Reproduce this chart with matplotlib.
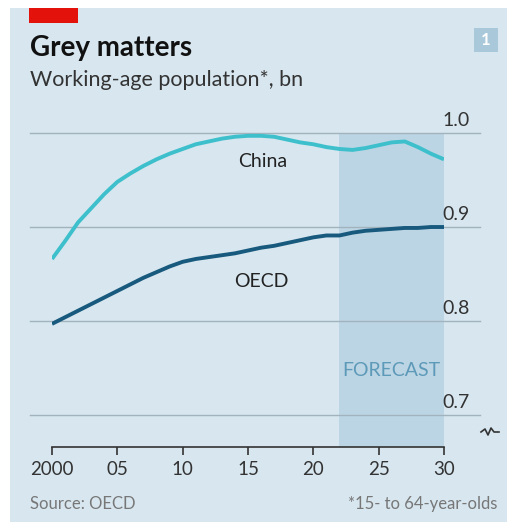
import matplotlib
matplotlib.use("Agg")
from matplotlib import pyplot as plt
from matplotlib import transforms
from matplotlib.patches import Rectangle

plt.rcParams['font.family'] = ['Lato', 'DejaVu Sans']

years = list(range(2000, 2031))
china = [0.866, 0.885, 0.905, 0.920, 0.935, 0.948, 0.957, 0.965, 0.972, 0.978,
         0.983, 0.988, 0.991, 0.994, 0.996, 0.997, 0.997, 0.996, 0.993, 0.990,
         0.988, 0.985, 0.983, 0.982, 0.984, 0.987, 0.990, 0.991, 0.985, 0.978,
         0.972]
oecd = [0.797, 0.804, 0.811, 0.818, 0.825, 0.832, 0.839, 0.846, 0.852, 0.858,
        0.863, 0.866, 0.868, 0.870, 0.872, 0.875, 0.878, 0.880, 0.883, 0.886,
        0.889, 0.891, 0.891, 0.894, 0.896, 0.897, 0.898, 0.899, 0.899, 0.900,
        0.900]
forecast = (2022, 2030)
y_ticks = [0.7, 0.8, 0.9, 1.0]
x_ticks = [2000, 2005, 2010, 2015, 2020, 2025, 2030]
x_labels = ["2000", "05", "10", "15", "20", "25", "30"]

bg = "#d7e6ef"
W, H = 507, 524
fig = plt.figure(figsize=(W / 100, H / 100), dpi=100)
fig.patch.set_facecolor("white")
fig.patches.append(Rectangle((10 / W, 0.003), 1 - 10 / W, 1 - 8 / H - 0.003,
                             transform=fig.transFigure, facecolor=bg,
                             edgecolor="none", zorder=-2))
fig.patches.append(Rectangle((29 / W, 1 - 23 / H), 49 / W, 15 / H,
                             transform=fig.transFigure, facecolor="#e3120b",
                             edgecolor="none", zorder=-1))

ymin, ymax = 0.666, 1.01
ax = fig.add_axes([52 / W, 1 - 447 / H, 392 / W, (447 - 123.6) / H])
ax.set_zorder(2)
ax.set_facecolor("none")
ax.set_xlim(2000, 2030)
ax.set_ylim(ymin, ymax)

# shaded forecast block stops at the top gridline
ax.axvspan(*forecast, ymax=(1.0 - ymin) / (ymax - ymin),
           facecolor="#bcd5e4", edgecolor="none", zorder=0)

# gridlines reach past the axes, labels sit on top of them at the right
trans = transforms.blended_transform_factory(fig.transFigure, ax.transData)
for v in y_ticks:
    ax.plot([30 / W, 480 / W], [v, v], transform=trans, color="#a3b3bd",
            lw=1, clip_on=False, zorder=1)
    ax.text(470 / W, v + 0.004, f"{v:.1f}", transform=trans, ha="right",
            va="bottom", fontsize=14, color="#333333")

ax.plot(years, china, color="#3ec0cc", lw=2.8, zorder=3, solid_capstyle="butt")
ax.plot(years, oecd, color="#185a7e", lw=2.8, zorder=3, solid_capstyle="butt")
ax.text(2016.1, 0.964, "China", fontsize=14, color="#222222", ha="center")
ax.text(2016.0, 0.836, "OECD", fontsize=14, color="#222222", ha="center")
ax.text(2026, 0.742, "FORECAST", fontsize=14, color="#5d99b8", ha="center")

# axis break mark under the 0.7 label
zx = [481, 485, 488, 491, 494, 499]
zy = [432, 429, 435, 428, 432, 432]
fig.lines.append(plt.Line2D([x / W for x in zx], [1 - y / H for y in zy],
                            transform=fig.transFigure, color="#333333",
                            lw=1.2, zorder=3))

for s in ["top", "right", "left"]:
    ax.spines[s].set_visible(False)
ax.spines["bottom"].set_color("#333333")
ax.spines["bottom"].set_linewidth(1.2)
ax.set_yticks([])
ax.set_xticks(x_ticks)
ax.set_xticklabels(x_labels, fontsize=13.5, color="#333333")
ax.tick_params(axis="x", length=6, width=1.2, color="#333333", pad=4)

fig.text(30 / W, 1 - 56 / H, "Grey matters", fontsize=20, fontweight="bold",
         color="#111111")
fig.text(30 / W, 1 - 86 / H, "Working-age population*, bn", fontsize=15.5,
         color="#333333")
fig.patches.append(Rectangle((474 / W, 1 - 52 / H), 24 / W, 24 / H,
                             transform=fig.transFigure, facecolor="#a9c8da",
                             edgecolor="none", zorder=1))
fig.text(486 / W, 1 - 40 / H, "1", fontsize=12, fontweight="bold",
         color="white", ha="center", va="center")
fig.text(30 / W, 1 - 509 / H, "Source: OECD", fontsize=12, color="#777777")
fig.text(497 / W, 1 - 509 / H, "*15- to 64-year-olds", fontsize=12,
         color="#777777", ha="right")

fig.savefig("out.png", dpi=100, facecolor=fig.get_facecolor())
